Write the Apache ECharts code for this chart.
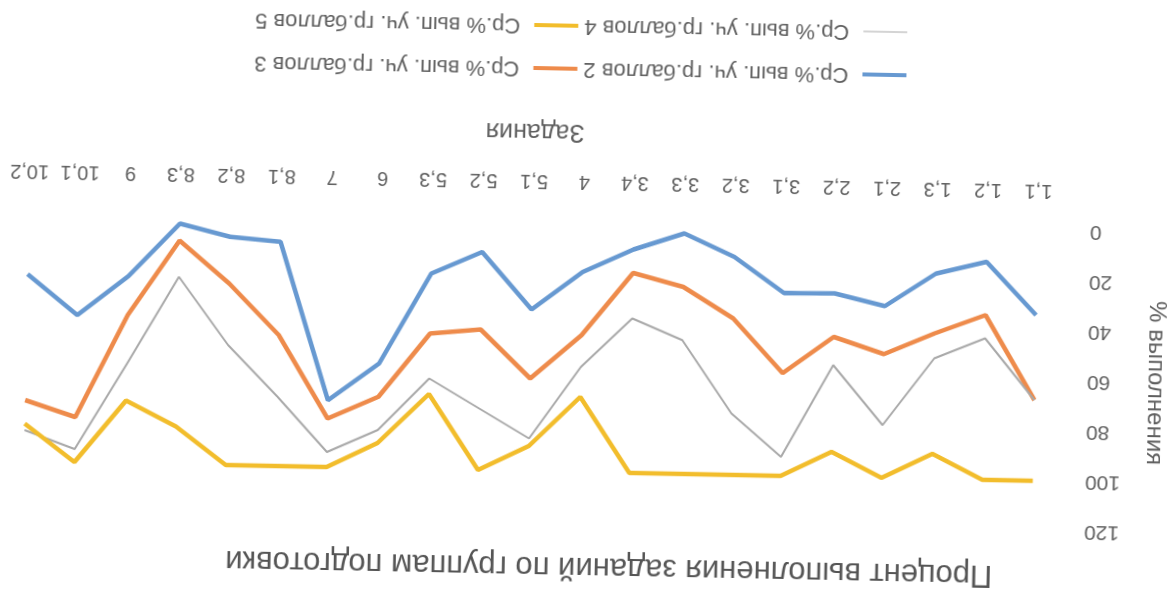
<!DOCTYPE html>
<html>
<head>
<meta charset="utf-8">
<script src="https://cdn.jsdelivr.net/npm/echarts@6/dist/echarts.min.js"></script>
<style>
html,body{margin:0;padding:0;background:#fff;overflow:hidden;width:1168px;height:598px;}
#chart{position:absolute;left:0;top:0;width:1168px;height:598px;transform-origin:584px 299px;transform:rotate(181.12deg);}
</style>
</head>
<body>
<div id="chart"></div>
<script>
var categories = ['1,1','1,2','1,3','2,1','2,2','3,1','3,2','3,3','3,4','4','5,1','5,2','5,3','6','7','8,1','8,2','8,3','9','10,1','10,2'];
var grade2 = [33.7, 12.8, 17.9, 31.3, 26.6, 26.9, 12.8, 3.8, 10.6, 20.0, 35.4, 12.8, 21.8, 58.2, 73.3, 10.3, 8.7, 3.8, 25.2, 41.2, 25.2];
var grade3 = [67.7, 34.1, 41.8, 50.5, 44.0, 58.9, 37.4, 25.2, 20.0, 45.3, 63.0, 43.8, 45.8, 71.5, 80.6, 47.6, 27.4, 10.6, 40.8, 82.0, 75.6];
var grade4 = [67.7, 43.4, 51.8, 78.9, 55.3, 92.4, 75.4, 46.5, 38.2, 58.0, 87.0, 75.4, 63.8, 84.8, 94.0, 72.3, 52.0, 25.1, 60.4, 94.8, 87.6];
var grade5 = [100, 100, 90, 100, 90, 100, 100, 100, 100, 70, 90, 100, 70, 90, 100, 100, 100, 85, 75, 100, 85];
var seriesNames = ['Ср.% вып. уч. гр.баллов 2','Ср.% вып. уч. гр.баллов 3','Ср.% вып. уч. гр.баллов 4','Ср.% вып. уч. гр.баллов 5'];
var yTicks = {min: 0, max: 120, interval: 20};
var titleText = 'Процент выполнения заданий по группам подготовки';
var xName = 'Задания';
var yName = '% выполнения';

var FONT = "'Liberation Sans', sans-serif";
var TXT = '#5f5f5f';
var chart = echarts.init(document.getElementById('chart'), null, {renderer: 'canvas'});
var thinIcon = 'path://M0,1.4H44V2.6H0ZM0,0H0.01V0.01H0ZM0,4H0.01V4.01H0Z';
function legendCfg(items, top) {
  return {
    data: items, top: top, left: 261, orient: 'horizontal',
    icon: 'rect', itemWidth: 44, itemHeight: 4, itemGap: 6,
    textStyle: {fontFamily: FONT, fontSize: 22, color: TXT, padding: [0,0,0,9]}
  };
}
function line(name, data, color, width) {
  return {name: name, type: 'line', data: data, symbol: 'none', showSymbol: false, smooth: false,
    lineStyle: {color: color, width: width}, itemStyle: {color: color}};
}
chart.setOption({
  animation: false,
  title: {text: titleText, left: 549, top: 11, textAlign: 'center',
    textStyle: {fontFamily: FONT, fontSize: 31, fontWeight: 'normal', color: '#555'}},
  legend: [
    legendCfg([seriesNames[0], seriesNames[1]], 513),
    legendCfg([{name: seriesNames[2], icon: thinIcon}, seriesNames[3]], 556)
  ],
  grid: {left: 106.5, right: 2, top: 76, bottom: 222, containLabel: false, outerBoundsMode: 'none'},
  xAxis: {type: 'category', data: categories, boundaryGap: true,
    name: xName, nameLocation: 'middle', nameGap: 78,
    nameTextStyle: {fontFamily: FONT, fontSize: 25, color: TXT},
    axisLine: {show: false}, axisTick: {show: false},
    axisLabel: {fontFamily: FONT, fontSize: 20, color: TXT, margin: 30, interval: 0}},
  yAxis: {type: 'value', min: yTicks.min, max: yTicks.max, interval: yTicks.interval,
    name: yName, nameLocation: 'middle', nameGap: 83, nameRotate: 90,
    nameTextStyle: {fontFamily: FONT, fontSize: 24, color: TXT},
    axisLine: {show: false}, axisTick: {show: false}, splitLine: {show: false},
    axisLabel: {fontFamily: FONT, fontSize: 21, color: TXT, margin: 27}},
  series: [
    line(seriesNames[0], grade2, '#6799d1', 4.5),
    line(seriesNames[1], grade3, '#ee8b4b', 4.5),
    line(seriesNames[2], grade4, '#a9a9a9', 2),
    line(seriesNames[3], grade5, '#f2bd2c', 4.5)
  ]
});
</script>
</body>
</html>
